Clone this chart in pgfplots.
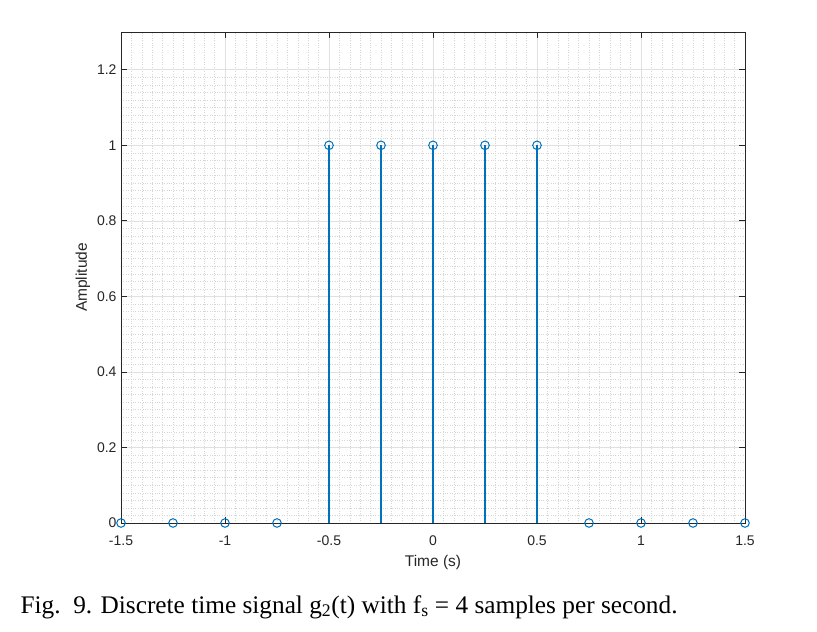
\documentclass[border=0pt]{standalone}
\usepackage{fontspec}
\setmainfont{Liberation Serif}
\setsansfont{Liberation Sans}
\usepackage{pgfplots}
\pgfplotsset{compat=1.18}
\definecolor{mblue}{HTML}{0072BD}
\definecolor{axgray}{HTML}{262626}

\begin{document}
\begin{tikzpicture}
\useasboundingbox (0pt,0pt) rectangle (817pt,-632pt);
\begin{axis}[
    at={(121pt,-523pt)}, anchor=south west,
    width=624pt, height=491pt, scale only axis,
    xmin=-1.5, xmax=1.5, ymin=0, ymax=1.3,
    xtick={-1.5,-1,-0.5,0,0.5,1,1.5},
    ytick={0,0.2,0.4,0.6,0.8,1,1.2},
    minor x tick num=9, minor y tick num=9,
    grid=both,
    major grid style={color=black!12, line width=0.6pt},
    minor grid style={color=black!16, line width=0.4pt, dotted},
    tick align=inside,
    major tick length=6pt, minor tick length=0pt,
    tick style={color=axgray, line width=0.8pt},
    axis line style={color=axgray, line width=0.8pt},
    /pgf/number format/assume math mode=true,
    ticklabel style={font=\fontsize{14}{16}\selectfont\sffamily, text=axgray},
    xticklabel style={yshift=-9pt},
    yticklabel style={xshift=-1pt},
    label style={font=\fontsize{15.5}{18}\selectfont\sffamily, text=axgray},
    xlabel style={yshift=-3pt},
    xlabel={Time (s)},
    ylabel={Amplitude},
    clip=false,
]
\addplot[ycomb, draw=mblue, line width=1.4pt,
    mark=o, mark size=4.3pt, mark options={draw=mblue, line width=1pt, fill=none}]
coordinates {
    (-1.5,0) (-1.25,0) (-1,0) (-0.75,0)
    (-0.5,1) (-0.25,1) (0,1) (0.25,1) (0.5,1)
    (0.75,0) (1,0) (1.25,0) (1.5,0)
};
\end{axis}
\node[anchor=base west, font=\fontsize{25.3}{30}\selectfont] at (17pt,-613pt)
    {Fig.\ \ 9. Discrete time signal g\textsubscript{2}(t) with f\textsubscript{s} = 4 samples per second.};
\end{tikzpicture}
\end{document}
